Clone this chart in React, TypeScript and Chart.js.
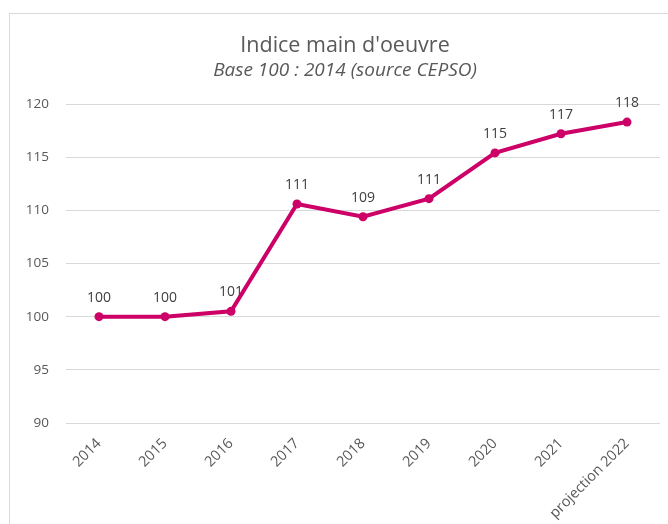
import React, { useEffect, useRef } from "react";
import { Chart, registerables } from "chart.js";

Chart.register(...registerables);

const categories: string[] = ["2014", "2015", "2016", "2017", "2018", "2019", "2020", "2021", "projection 2022"];
const indexValues: number[] = [100, 100, 100.5, 110.6, 109.4, 111.1, 115.4, 117.2, 118.3];
const yTicks: number[] = [90, 95, 100, 105, 110, 115, 120];
const titleText = "Indice main d'oeuvre";
const subtitleText = "Base 100 : 2014 (source CEPSO)";

const FONT = "'Open Sans', Lato, sans-serif";
const LINE_COLOR = "#CC0066";

const titlePlugin = {
  id: "customTitle",
  afterDraw(chart: any) {
    const ctx = chart.ctx;
    ctx.save();
    ctx.textAlign = "center";
    ctx.textBaseline = "alphabetic";
    ctx.fillStyle = "#595959";
    const cx = chart.width / 2;
    ctx.font = `21.5px ${FONT}`;
    ctx.fillText(titleText, cx, 38);
    ctx.font = `italic 19px ${FONT}`;
    ctx.fillText(subtitleText, cx, 62);
    ctx.restore();
  },
};

const dataLabelPlugin = {
  id: "dataLabels",
  afterDatasetsDraw(chart: any) {
    const ctx = chart.ctx;
    const meta = chart.getDatasetMeta(0);
    const data = chart.data.datasets[0].data as number[];
    ctx.save();
    ctx.textAlign = "center";
    ctx.textBaseline = "alphabetic";
    ctx.fillStyle = "#404040";
    ctx.font = `14px ${FONT}`;
    meta.data.forEach((pt: any, i: number) => {
      ctx.fillText(String(Math.round(data[i])), pt.x, pt.y - 15);
    });
    ctx.restore();
  },
};

export default function App() {
  const canvasRef = useRef<HTMLCanvasElement | null>(null);

  useEffect(() => {
    if (!canvasRef.current) return;
    const chart = new Chart(canvasRef.current, {
      type: "line",
      data: {
        labels: categories,
        datasets: [
          {
            data: indexValues,
            borderColor: LINE_COLOR,
            backgroundColor: LINE_COLOR,
            borderWidth: 4,
            pointRadius: 4.5,
            pointBackgroundColor: LINE_COLOR,
            pointBorderColor: LINE_COLOR,
            pointBorderWidth: 0,
            tension: 0,
            fill: false,
          },
        ],
      },
      options: {
        responsive: false,
        animation: false,
        layout: { padding: { top: 90, right: 20, bottom: 0, left: 0 } },
        plugins: {
          legend: { display: false },
          title: { display: false },
          tooltip: { enabled: false },
        },
        scales: {
          x: {
            type: "category",
            offset: true,
            grid: { display: false, drawTicks: false },
            border: { display: false },
            ticks: {
              color: "#595959",
              font: { family: FONT, size: 14.5 },
              minRotation: 45,
              maxRotation: 45,
              autoSkip: false,
              padding: 12,
            },
            afterFit(scale: any) {
              scale.height = 131;
            },
          },
          y: {
            min: yTicks[0],
            max: yTicks[yTicks.length - 1],
            afterBuildTicks(scale: any) {
              scale.ticks = yTicks.map((v) => ({ value: v }));
            },
            grid: { color: "#d9d9d9", lineWidth: 1, drawTicks: false },
            border: { display: false },
            ticks: {
              color: "#595959",
              font: { family: FONT, size: 13.5 },
              padding: 17,
            },
            afterFit(scale: any) {
              scale.width = 56;
            },
          },
        },
      },
      plugins: [titlePlugin, dataLabelPlugin],
    });
    return () => chart.destroy();
  }, []);

  return (
    <div style={{ position: "fixed", left: 0, top: 0, width: 668, height: 524, overflow: "hidden", background: "#fff" }}>
      <div
        style={{
          position: "absolute",
          left: 9,
          top: 13,
          width: 670,
          height: 540,
          border: "1px solid #d9d9d9",
          background: "#fff",
        }}
      >
        <canvas ref={canvasRef} width={670} height={540} style={{ display: "block", width: 670, height: 540 }} />
      </div>
    </div>
  );
}
